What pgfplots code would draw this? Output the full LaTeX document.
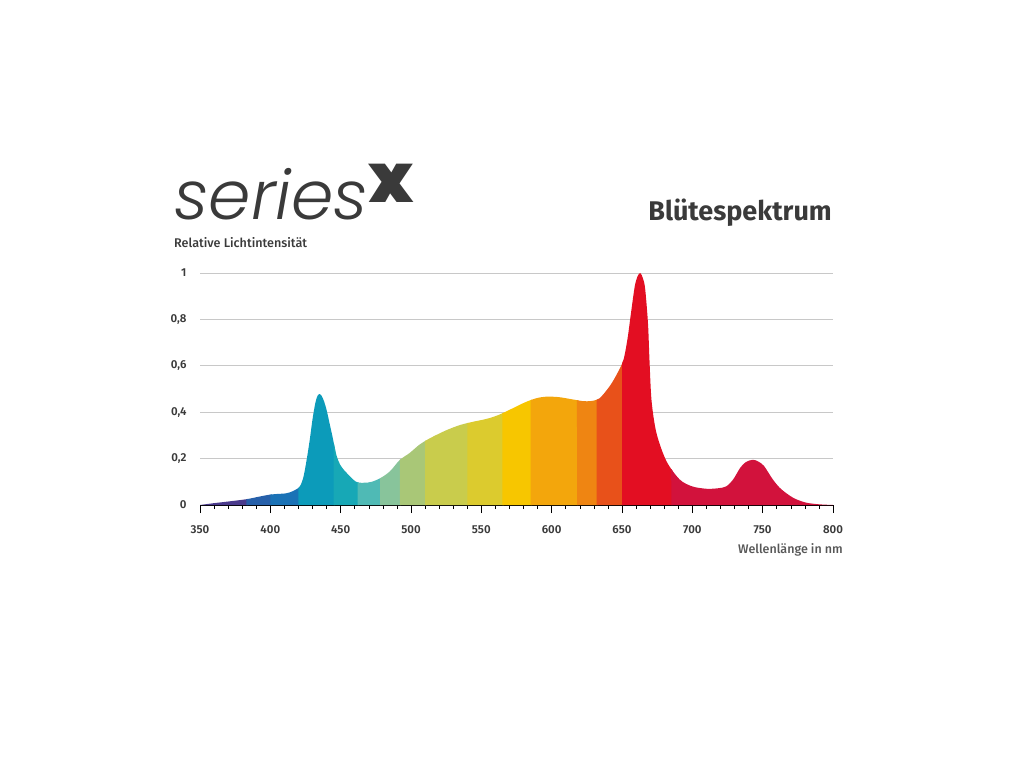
\documentclass[border=0pt]{standalone}
\usepackage{pgfplots}
\pgfplotsset{compat=1.18}
\usepgfplotslibrary{fillbetween}
\usepackage{fontspec}
\setmainfont{Fira Sans}
\newfontfamily\fsmed{Fira Sans Medium}
\newfontfamily\fssemi{Fira Sans SemiBold}
\newfontfamily\logofont{Poppins Light Italic}
\newfontfamily\logobold{Poppins Black}
\definecolor{txt}{HTML}{3A3A3A}
\definecolor{gridc}{HTML}{C8C8C8}
\definecolor{b1}{HTML}{4A3A8C}
\definecolor{b2}{HTML}{2660AA}
\definecolor{b3}{HTML}{1A72B6}
\definecolor{b4}{HTML}{0C9BBA}
\definecolor{b5}{HTML}{17A8B6}
\definecolor{b6}{HTML}{4FBAB5}
\definecolor{b7}{HTML}{88C49B}
\definecolor{b8}{HTML}{A9C777}
\definecolor{b9}{HTML}{C9CC4C}
\definecolor{b10}{HTML}{DCCB2E}
\definecolor{b11}{HTML}{F7C600}
\definecolor{b12}{HTML}{F3A60C}
\definecolor{b13}{HTML}{EF8512}
\definecolor{b14}{HTML}{E8511A}
\definecolor{b15}{HTML}{E30E22}
\definecolor{b16}{HTML}{D2123C}
\pgfplotstableread{
x y
350 0
360 0.008
370 0.015
383 0.025
392 0.036
400 0.045
406 0.048
411 0.05
415 0.057
418 0.066
421 0.08
423.5 0.12
425.8 0.194
428 0.28
430 0.37
432 0.44
433.5 0.47
435 0.478
436.5 0.47
438 0.45
440 0.41
442 0.355
444 0.3
447 0.215
450 0.17
454 0.14
461 0.10
467 0.096
472 0.1
478 0.115
485 0.145
492 0.194
499 0.224
506 0.26
513.5 0.288
525 0.322
535 0.345
545 0.36
550 0.366
556 0.375
563 0.39
570 0.41
576 0.428
582 0.445
589 0.46
596 0.467
605 0.465
615 0.455
622 0.448
628 0.448
634 0.46
641 0.51
646 0.56
651 0.625
654 0.72
656 0.81
659 0.94
661 0.985
663 1.0
665 0.975
666.5 0.93
668.5 0.78
669.5 0.63
671 0.45
674.5 0.31
681.5 0.19
691 0.11
700 0.08
710 0.07
718 0.072
724 0.08
729 0.11
734 0.16
738 0.185
743 0.195
747 0.187
751 0.168
757 0.112
762 0.075
767 0.05
773 0.027
781 0.01
790 0.003
800 0
}\spectrum
\begin{document}
\begin{tikzpicture}[x=1pt,y=1pt]
\begin{axis}[
  at={(0,0)}, anchor=south west, scale only axis,
  width=633pt, height=232pt,
  xmin=350, xmax=800, ymin=0, ymax=1,
  axis lines*=left,
  y axis line style={draw=none},
  x axis line style={black, line width=0.8pt},
  xtick={350,400,...,800},
  minor x tick num=4,
  ytick={0,0.2,...,1},
  ytick style={draw=none},
  x tick style={black, line width=0.6pt},
  minor x tick style={black, line width=0.5pt},
  tick align=outside,
  major tick length=8pt,
  minor tick length=4pt,
  ymajorgrids,
  grid style={gridc, line width=0.9pt},
  /pgf/number format/assume math mode=true,
  /pgf/number format/use comma,
  tick label style={font=\fssemi\fontsize{11.5}{11.5}\selectfont, text=txt},
  yticklabel style={xshift=-2pt},
  xticklabel style={yshift=-9pt},
]
\addplot[name path=spec, draw=none, smooth, tension=0.5] table[x=x,y=y] {\spectrum};
\addplot[name path=base, draw=none] coordinates {(350,0) (800,0)};
\addplot[b1, draw=none] fill between[of=spec and base, soft clip={domain=350:384}];
\addplot[b2, draw=none] fill between[of=spec and base, soft clip={domain=383:401}];
\addplot[b3, draw=none] fill between[of=spec and base, soft clip={domain=400:421}];
\addplot[b4, draw=none] fill between[of=spec and base, soft clip={domain=420:446}];
\addplot[b5, draw=none] fill between[of=spec and base, soft clip={domain=445:463}];
\addplot[b6, draw=none] fill between[of=spec and base, soft clip={domain=462:479}];
\addplot[b7, draw=none] fill between[of=spec and base, soft clip={domain=478:493}];
\addplot[b8, draw=none] fill between[of=spec and base, soft clip={domain=492:511}];
\addplot[b9, draw=none] fill between[of=spec and base, soft clip={domain=510:541}];
\addplot[b10, draw=none] fill between[of=spec and base, soft clip={domain=540:566}];
\addplot[b11, draw=none] fill between[of=spec and base, soft clip={domain=565:586}];
\addplot[b12, draw=none] fill between[of=spec and base, soft clip={domain=585:619}];
\addplot[b13, draw=none] fill between[of=spec and base, soft clip={domain=618:633}];
\addplot[b14, draw=none] fill between[of=spec and base, soft clip={domain=632:651}];
\addplot[b15, draw=none] fill between[of=spec and base, soft clip={domain=650:686}];
\addplot[b16, draw=none] fill between[of=spec and base, soft clip={domain=685:800}];
\end{axis}
\node[anchor=base west, inner sep=0, text=txt, text depth=0pt] at (-26,285)
  {\logofont\fontsize{68}{68}\selectfont series\raisebox{17pt}{\logobold x}};
\node[anchor=base west, inner sep=0, text=txt] at (-26,257)
  {\fsmed\fontsize{12.6}{12.6}\selectfont Relative Lichtintensität};
\node[anchor=base east, inner sep=0, text=txt] at (632,284)
  {\bfseries\fontsize{27}{27}\selectfont Blütespektrum};
\node[anchor=base east, inner sep=0, text=txt!85] at (643,-48)
  {\fsmed\fontsize{12.5}{12.5}\selectfont Wellenlänge in nm};
\pgfresetboundingbox
\path[use as bounding box] (-200,-263) rectangle (824,505);
\end{tikzpicture}
\end{document}
